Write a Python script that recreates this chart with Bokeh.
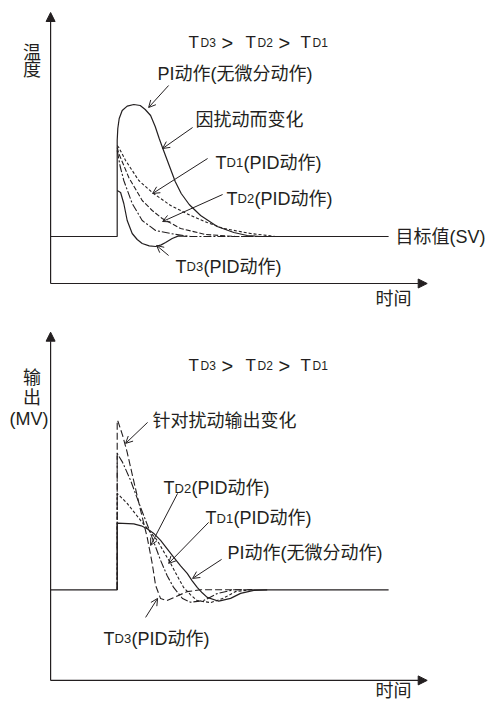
from bokeh.plotting import figure
from bokeh.layouts import column
from bokeh.models import Range1d, Arrow, NormalHead, OpenHead, Label
from bokeh.embed import file_html
from bokeh.resources import INLINE

INK = "#231f20"
LAT = "Liberation Sans"
MIX = "Liberation Sans, Noto Sans CJK SC"

# ---------------- data: upper panel (temperature deviation vs time) ----------------
top_pi_t = [-3.33, 0, 0, 0.03, 0.1, 0.25, 0.5, 0.83, 1.15, 1.4, 1.67, 1.9, 2.1, 2.3, 2.6, 2.9, 3.2, 3.6, 4.17, 5.0, 5.83, 6.5, 7.17]
top_pi_v = [0, 0, 4.8, 5.4, 5.9, 6.3, 6.52, 6.6, 6.55, 6.35, 6.05, 5.5, 4.9, 4.35, 3.55, 2.75, 2.15, 1.6, 1.05, 0.5, 0.2, 0.05, 0]

top_td1_t = [0, 0.08, 0.42, 1.08, 1.75, 2.67, 3.67, 4.5, 5.32, 6.67, 7.92]
top_td1_v = [4.55, 4.45, 3.8, 2.8, 2.2, 1.55, 1.05, 0.7, 0.4, 0.15, 0]

top_td2_t = [0, 0.08, 0.58, 1.25, 1.75, 2.25, 3.17, 4.42, 5.92, 7.0]
top_td2_v = [4.45, 4.15, 2.95, 1.8, 1.3, 0.9, 0.4, 0.1, 0, 0]

top_mid_t = [0, 0.15, 0.33, 0.75, 1.25, 1.92, 2.83, 3.67, 7.0]
top_mid_v = [4.3, 3.5, 2.8, 1.65, 0.8, 0.3, 0.12, 0, 0]

top_td3_t = [0, 0.17, 0.33, 0.5, 0.75, 1.0, 1.25, 1.6, 1.92, 2.2, 2.42, 2.75, 3.07, 3.5]
top_td3_v = [2.3, 2.2, 1.65, 0.8, 0.15, -0.15, -0.35, -0.47, -0.5, -0.42, -0.3, -0.1, 0.03, 0]

top_sv_t = [7.0, 13.57]
top_sv_v = [0, 0]

# ---------------- data: lower panel (output MV deviation vs time) ----------------
bot_pi_t = [-3.33, 0, 0, 0.83, 1.2, 1.5, 1.85, 2.17, 2.5, 2.83, 3.17, 3.5, 3.75, 4.0, 4.25, 4.5, 5.08, 5.67, 6.17, 6.83, 7.5]
bot_pi_v = [0, 0, 3.33, 3.3, 3.2, 3.05, 2.8, 2.47, 2.05, 1.62, 1.2, 0.82, 0.45, 0.12, -0.15, -0.38, -0.57, -0.43, -0.18, -0.03, 0]

bot_td1_t = [0, 0, 0.5, 1.17, 2.0, 2.67, 3.0, 3.32, 3.67, 4.0, 4.67, 5.27, 5.92, 6.67, 6.8]
bot_td1_v = [0, 4.82, 4.32, 3.47, 2.47, 1.32, 0.7, 0.12, -0.25, -0.54, -0.64, -0.44, -0.09, 0, 0]

bot_td2_t = [0, 0, 0.27, 0.67, 1.17, 1.67, 2.17, 2.5, 2.82, 3.27, 3.67, 4.32, 5.0, 5.82, 6.8]
bot_td2_v = [0, 6.82, 6.37, 5.47, 4.12, 2.82, 1.47, 0.7, 0.12, -0.44, -0.62, -0.54, -0.19, 0, 0]

bot_td3_t = [0, 0, 0.04, 0.27, 0.5, 0.82, 1.17, 1.5, 1.75, 1.92, 2.17, 2.47, 2.82, 3.5, 4.17, 6.8]
bot_td3_v = [0, 8.47, 8.42, 7.72, 6.87, 5.47, 3.97, 2.62, 1.32, 0.22, -0.44, -0.54, -0.39, -0.09, 0, 0]

bot_sv_t = [6.8, 13.57]
bot_sv_v = [0, 0]

TD_SUBS = ["D3", "D2", "D1"]


def make_fig(h, y0, y1):
    p = figure(width=487, height=h, x_range=Range1d(-5.835, 18.515), y_range=Range1d(y0, y1),
               output_backend="svg", toolbar_location=None,
               x_axis_location=None, y_axis_location=None, min_border=0)
    p.grid.visible = False
    p.outline_line_color = None
    p.background_fill_color = "white"
    p.border_fill_color = "white"
    return p


def lab(p, x, y, text, size, align="left", baseline="middle", font=MIX):
    p.add_layout(Label(x=x, y=y, text=text, text_font=font, text_font_size=f"{size}px",
                       text_align=align, text_baseline=baseline, text_color=INK))


def tlabel(p, x, y, sub, rest):
    # "T" + small subscript + rest, all on one baseline (x in data units, 20 px per unit)
    lab(p, x, y, "T", 18, baseline="alphabetic", font=LAT)
    lab(p, x + 0.55, y, sub, 13, baseline="alphabetic", font=LAT)
    lab(p, x + 1.4, y, rest, 18, baseline="alphabetic")


def title(p, y):
    xs = [3.57, 6.42, 9.17]
    for i, s in enumerate(TD_SUBS):
        lab(p, xs[i], y, "T", 17, baseline="alphabetic", font=LAT)
        lab(p, xs[i] + 0.6, y, s, 12, baseline="alphabetic", font=LAT)
        if i < 2:
            lab(p, xs[i] + 1.65, y, ">", 20, baseline="alphabetic", font=LAT)


def axes(p, y_axis_bottom, y_tip):
    for xe, ye in [(-3.33, y_tip), (15.5, y_axis_bottom)]:
        p.add_layout(Arrow(end=NormalHead(size=9, fill_color=INK, line_color=INK, line_width=1),
                           x_start=-3.33, y_start=y_axis_bottom, x_end=xe, y_end=ye,
                           line_color=INK, line_width=1.2))


def pointer(p, xs, ys, xe, ye):
    p.add_layout(Arrow(end=OpenHead(size=7, line_color=INK, line_width=1),
                       x_start=xs, y_start=ys, x_end=xe, y_end=ye,
                       line_color=INK, line_width=1))


# ---------------- upper panel ----------------
p1 = make_fig(328, -4.6, 11.8)
axes(p1, -2.35, 11.2)
p1.line(top_sv_t, top_sv_v, line_color=INK, line_width=1.2)
p1.line(top_td1_t, top_td1_v, line_color=INK, line_width=1.1, line_dash="3 2")
p1.line(top_td2_t, top_td2_v, line_color=INK, line_width=1.1, line_dash="5 2")
p1.line(top_mid_t, top_mid_v, line_color=INK, line_width=1.1, line_dash="8 2 2 2")
p1.line(top_td3_t, top_td3_v, line_color=INK, line_width=1.2)
p1.line(top_pi_t, top_pi_v, line_color=INK, line_width=1.2)

title(p1, 9.7)
lab(p1, -4.26, 9.2, "温", 18, align="center")
lab(p1, -4.26, 8.35, "度", 18, align="center")
lab(p1, 2.02, 8.15, "PI动作(无微分动作)", 18)
lab(p1, 3.92, 5.85, "因扰动而变化", 18)
tlabel(p1, 4.92, 3.7, "D1", "(PID动作)")
tlabel(p1, 5.47, 1.9, "D2", "(PID动作)")
tlabel(p1, 2.92, -1.5, "D3", "(PID动作)")
lab(p1, 13.92, 0.0, "目标值(SV)", 18)
lab(p1, 12.92, -3.1, "时间", 18)

pointer(p1, 2.57, 7.55, 1.57, 6.45)
pointer(p1, 3.77, 5.45, 2.27, 4.4)
pointer(p1, 4.52, 3.9, 1.77, 2.15)
pointer(p1, 5.27, 2.1, 2.27, 0.75)
pointer(p1, 2.57, -0.95, 1.97, -0.45)

# ---------------- lower panel ----------------
p2 = make_fig(376, -5.735, 13.065)
axes(p2, -4.53, 12.88)
p2.line(bot_sv_t, bot_sv_v, line_color=INK, line_width=1.2)
p2.line(bot_td1_t, bot_td1_v, line_color=INK, line_width=1.1, line_dash="3 2")
p2.line(bot_td2_t, bot_td2_v, line_color=INK, line_width=1.1, line_dash="8 2 2 2")
p2.line(bot_td3_t, bot_td3_v, line_color=INK, line_width=1.1, line_dash="7 3")
p2.line(bot_pi_t, bot_pi_v, line_color=INK, line_width=1.2)

title(p2, 11.2)
lab(p2, -4.26, 10.57, "输", 18, align="center")
lab(p2, -4.26, 9.6, "出", 18, align="center")
lab(p2, -4.41, 8.55, "(MV)", 18, align="center")
lab(p2, 1.77, 8.42, "针对扰动输出变化", 18)
tlabel(p2, 2.32, 5.08, "D2", "(PID动作)")
tlabel(p2, 4.42, 3.58, "D1", "(PID动作)")
lab(p2, 5.52, 1.82, "PI动作(无微分动作)", 18)
tlabel(p2, -0.68, -2.45, "D3", "(PID动作)")
lab(p2, 12.92, -5.05, "时间", 18)

pointer(p2, 1.52, 8.37, 0.42, 7.32)
pointer(p2, 3.02, 4.82, 1.67, 2.22)
pointer(p2, 4.57, 3.37, 2.57, 1.32)
pointer(p2, 5.22, 1.52, 3.77, 0.57)
pointer(p2, 1.42, -1.38, 2.02, -0.43)

layout = column(p1, p2)
open("out.html", "w").write(file_html(layout, INLINE))
